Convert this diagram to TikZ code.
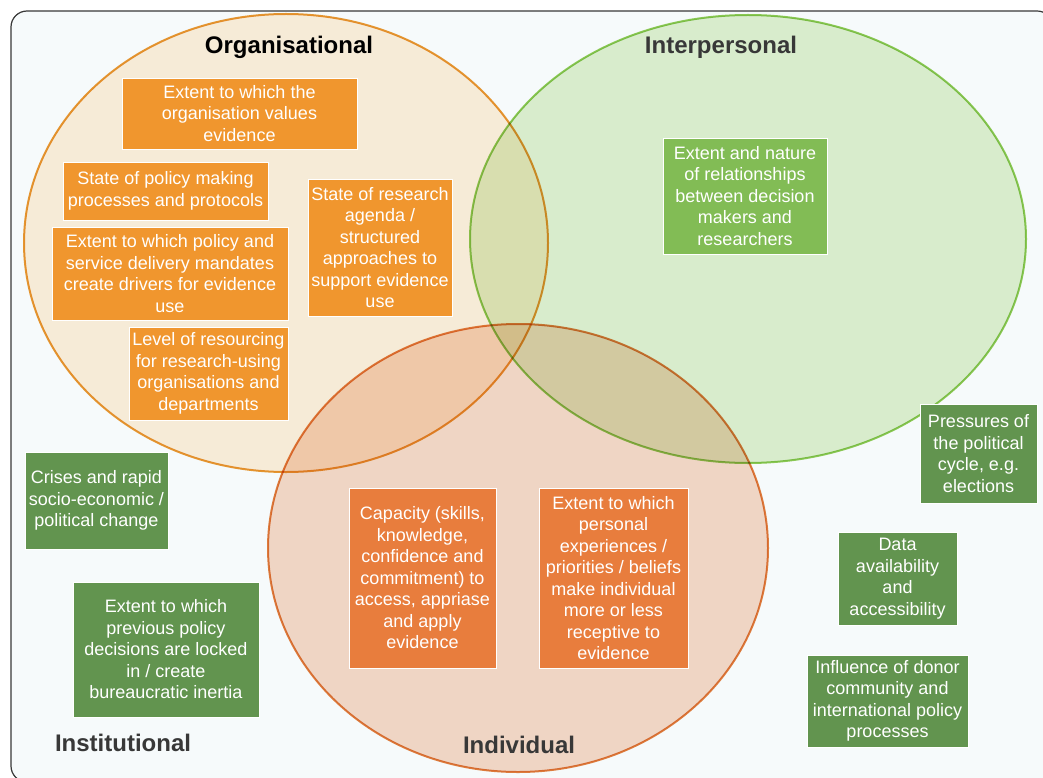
\documentclass[tikz,border=0pt]{standalone}
\usepackage{fontspec}
\setmainfont{Liberation Sans}
\definecolor{framefill}{HTML}{F6FAFB}
\definecolor{orgline}{HTML}{EC9A32}
\definecolor{orgfill}{HTML}{FFF0DB}
\definecolor{interline}{HTML}{90CC56}
\definecolor{interfill}{HTML}{E0F1D0}
\definecolor{indivline}{HTML}{E57F3E}
\definecolor{indivfill}{HTML}{F8DAC8}
\definecolor{orgbox}{HTML}{F0962E}
\definecolor{interbox}{HTML}{82BC55}
\definecolor{indivbox}{HTML}{E87D3D}
\definecolor{instbox}{HTML}{62944F}
\definecolor{titlegray}{HTML}{383838}
\begin{document}
\begin{tikzpicture}[x=1pt,y=-1pt,
    factor/.style={draw=white,line width=0.8pt,text=white,align=center,inner sep=0pt,
        font={\fontsize{18}{21.5}\selectfont}},
    title/.style={text=titlegray,font={\fontsize{24}{28}\selectfont\bfseries}}]
                        \useasboundingbox (0,0) rectangle (1043,778);

                        % Frame
                        \draw [fill=framefill,draw=titlegray,line width=1.2pt,rounded corners=16pt] (11,11) rectangle (1053,782);

                        % Circles
                        \begin{scope}[blend mode=multiply]
                        \draw [fill=orgfill,draw=orgline,line width=2pt] (286,243) ellipse [x radius=262pt, y radius=229pt];
                        \draw [fill=interfill,draw=interline,line width=2pt] (748,239) ellipse [x radius=278pt, y radius=224pt];
                        \draw [fill=indivfill,draw=indivline,line width=2pt] (518,548) ellipse [x radius=250pt, y radius=224pt];
                        \end{scope}

                        % Titles
                        \node [title,text=black] (orgtitle) at (289,47) {Organisational};
                        \node [title] (intertitle) at (721,47) {Interpersonal};
                        \node [title] (indivtitle) at (519,745) {Individual};
                        \node [title] (insttitle) at (123,743) {Institutional};

                        % Organisational
                        \node [factor,fill=orgbox,minimum width=235pt,minimum height=71pt] (orgvalues) at (239.5,113.5) {Extent to which the\\organisation values\\evidence};
                        \node [factor,fill=orgbox,minimum width=205pt,minimum height=58pt] (orgprocess) at (165.5,191) {State of policy making\\processes and protocols};
                        \node [factor,fill=orgbox,minimum width=236pt,minimum height=93pt] (orgmandate) at (170,273.5) {Extent to which policy and\\service delivery mandates\\create drivers for evidence\\use};
                        \node [factor,fill=orgbox,minimum width=144pt,minimum height=137pt] (orgagenda) at (380,247.5) {State of research\\agenda /\\structured\\approaches to\\support evidence\\use};
                        \node [factor,fill=orgbox,minimum width=159pt,minimum height=93pt] (orgresource) at (208.5,373.5) {Level of resourcing\\for research-using\\organisations and\\departments};

                        % Interpersonal
                        \node [factor,fill=interbox,minimum width=164pt,minimum height=116pt] (interrel) at (745,196) {Extent and nature\\of relationships\\between decision\\makers and\\researchers};

                        % Individual
                        \node [factor,fill=indivbox,minimum width=147pt,minimum height=180pt] (indivcap) at (422.5,578) {Capacity (skills,\\knowledge,\\confidence and\\commitment) to\\access, appriase\\and apply\\evidence};
                        \node [factor,fill=indivbox,minimum width=149pt,minimum height=180pt] (indivexp) at (613.5,578) {Extent to which\\personal\\experiences /\\priorities / beliefs\\make individual\\more or less\\receptive to\\evidence};

                        % Institutional
                        \node [factor,fill=instbox,minimum width=143pt,minimum height=97pt] (instcrisis) at (96.5,500.5) {Crises and rapid\\socio-economic /\\political change};
                        \node [factor,fill=instbox,minimum width=186pt,minimum height=135pt] (instlocked) at (166,649.5) {Extent to which\\previous policy\\decisions are locked\\in / create\\bureaucratic inertia};
                        \node [factor,fill=instbox,minimum width=117pt,minimum height=99pt] (instcycle) at (978.5,453.5) {Pressures of\\the political\\cycle, e.g.\\elections};
                        \node [factor,fill=instbox,minimum width=119pt,minimum height=93pt] (instdata) at (897.5,578.5) {Data\\availability\\and\\accessibility};
                        \node [factor,fill=instbox,minimum width=161pt,minimum height=92pt] (instdonor) at (887.5,701) {Influence of donor\\community and\\international policy\\processes};
                    \end{tikzpicture}
\end{document}
